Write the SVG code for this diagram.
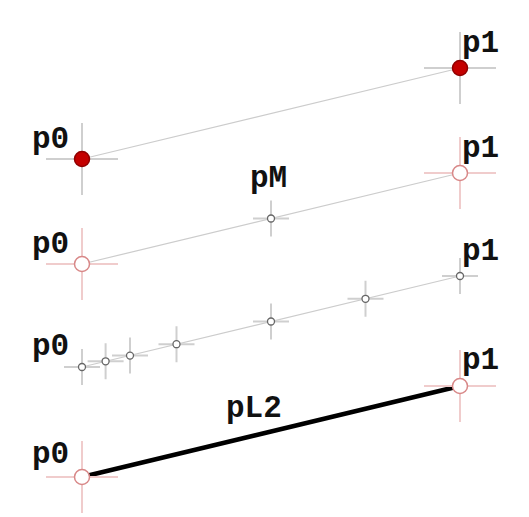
<svg xmlns="http://www.w3.org/2000/svg" width="529" height="517" viewBox="0 0 529 517">
<style>
.lbl{font-family:"Liberation Mono","Courier New",monospace;font-weight:bold;font-size:31px;fill:#111}
.chg{stroke:#cfcfcf;stroke-width:2;fill:none}
.chp{stroke:#f0cccc;stroke-width:2;fill:none}
.seg{stroke:#cccccc;stroke-width:1.2;fill:none}
.ptR{fill:#c40000;stroke:#900000;stroke-width:1.5}
.ptO{fill:#fff;stroke:#d88888;stroke-width:1.5}
.ptS{fill:#fff;stroke:#666;stroke-width:1.3}
</style>
<rect width="529" height="517" fill="#fff"/>
<g id="connectors">
<line class="seg" x1="82" y1="159" x2="460" y2="68"/>
<line class="seg" x1="82" y1="264" x2="460" y2="173"/>
<line class="seg" x1="82" y1="367" x2="460" y2="276"/>
<line x1="82" y1="477" x2="460" y2="386" stroke="#000" stroke-width="4.5"/>
</g>
<g id="row1-p0">
<path class="chg" d="M46 159H118M82 123V195"/>
<circle class="ptR" cx="82" cy="159" r="7.5"/>
<text class="lbl" x="32" y="148">p0</text>
</g>
<g id="row1-p1">
<path class="chg" d="M424 68H496M460 32V104"/>
<circle class="ptR" cx="460" cy="68" r="7.5"/>
<text class="lbl" x="462" y="52">p1</text>
</g>
<g id="row2-p0">
<path class="chp" d="M46 264H118M82 228V300"/>
<circle class="ptO" cx="82" cy="264" r="7.5"/>
<text class="lbl" x="32" y="253">p0</text>
</g>
<g id="row2-p1">
<path class="chp" d="M424 173H496M460 137V209"/>
<circle class="ptO" cx="460" cy="173" r="7.5"/>
<text class="lbl" x="462" y="157">p1</text>
</g>
<g id="row2-pM">
<path class="chg" d="M253 218.5H289M271 200.5V236.5"/>
<circle class="ptS" cx="271" cy="218.5" r="3.5"/>
<text class="lbl" x="250" y="187">pM</text>
</g>
<g id="row3-p0">
<text class="lbl" x="32" y="355">p0</text>
</g>
<g id="row3-p1">
<text class="lbl" x="462" y="260">p1</text>
</g>
<g id="row3-points">
<path class="chg" d="M64 367H100M82 349V385"/>
<circle class="ptS" cx="82" cy="367" r="3.5"/>
<path class="chg" d="M87.6 361.3H123.6M105.6 343.3V379.3"/>
<circle class="ptS" cx="105.6" cy="361.3" r="3.5"/>
<path class="chg" d="M112 355.6H148M130 337.6V373.6"/>
<circle class="ptS" cx="130" cy="355.6" r="3.5"/>
<path class="chg" d="M158.5 344.2H194.5M176.5 326.2V362.2"/>
<circle class="ptS" cx="176.5" cy="344.2" r="3.5"/>
<path class="chg" d="M253 321.5H289M271 303.5V339.5"/>
<circle class="ptS" cx="271" cy="321.5" r="3.5"/>
<path class="chg" d="M347.5 298.8H383.5M365.5 280.8V316.8"/>
<circle class="ptS" cx="365.5" cy="298.8" r="3.5"/>
<path class="chg" d="M442 276H478M460 258V294"/>
<circle class="ptS" cx="460" cy="276" r="3.5"/>
</g>
<g id="row4-p0">
<path class="chp" d="M46 477H118M82 441V513"/>
<circle class="ptO" cx="82" cy="477" r="7.5"/>
<text class="lbl" x="32" y="463">p0</text>
</g>
<g id="row4-p1">
<path class="chp" d="M424 386H496M460 350V422"/>
<circle class="ptO" cx="460" cy="386" r="7.5"/>
<text class="lbl" x="462" y="369">p1</text>
</g>
<g id="row4-pL2">
<text class="lbl" x="226" y="417">pL2</text>
</g>
</svg>
